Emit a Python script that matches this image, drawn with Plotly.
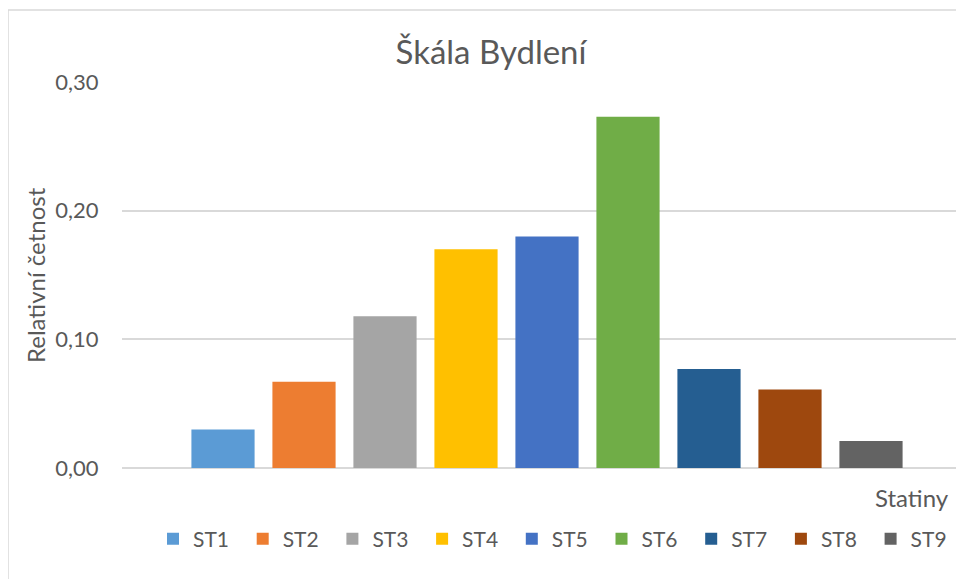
import plotly.graph_objects as go

categories = ["ST1", "ST2", "ST3", "ST4", "ST5", "ST6", "ST7", "ST8", "ST9"]
values = [0.030, 0.067, 0.118, 0.170, 0.180, 0.273, 0.077, 0.061, 0.021]
colors = ["#5B9BD5", "#ED7D31", "#A5A5A5", "#FFC000", "#4472C4",
          "#70AD47", "#255E91", "#9E480E", "#636363"]
y_ticks = [0.0, 0.1, 0.2, 0.3]

title_text = "Škála Bydlení"
y_title = "Relativní četnost"
x_title = "Statiny"

FONT = "Lato"
TXT = "#595959"
GRID = "#D9D9D9"

OFF = 8  # page body margin
W, H = 964 - OFF, 579 - OFF
L, R, T = 122 - OFF, 0, 82 - OFF
B = H - (468 - OFF)
pw = W - L - R
ph = H - T - B

def px_x(p):
    return (p - OFF - L) / pw

def px_y(p):
    return (H - B - (p - OFF)) / ph

fig = go.Figure()
for name, val, col in zip(categories, values, colors):
    fig.add_trace(go.Bar(
        x=[name], y=[val], name=name, width=0.78,
        marker=dict(color=col, line=dict(width=0)),
    ))

fig.update_layout(
    width=W, height=H,
    margin=dict(l=L, r=R, t=T, b=B),
    paper_bgcolor="white", plot_bgcolor="white",
    separators=", ",
    barmode="overlay",
    showlegend=True,
    font=dict(family=FONT, color=TXT, size=22),
    title=dict(text=title_text, font=dict(family=FONT, size=33, color=TXT),
               xref="paper", x=px_x(491), xanchor="center",
               yref="container", y=1 - (52 - OFF) / H, yanchor="middle"),
    legend=dict(orientation="h", x=px_x(557), xanchor="center",
                y=px_y(539), yanchor="middle",
                font=dict(family=FONT, size=21, color=TXT),
                traceorder="normal", entrywidth=44.7, itemclick=False),
    xaxis=dict(type="category", categoryorder="array", categoryarray=categories,
               range=[(122 - 223) / 81, (964 - 223) / 81],
               showticklabels=False, showgrid=False, zeroline=False,
               showline=False, ticks=""),
    yaxis=dict(range=[0, 0.30], tickvals=y_ticks, tickformat=".2f",
               showgrid=True, gridcolor=GRID, gridwidth=1.5,
               zeroline=True, zerolinecolor=GRID, zerolinewidth=1.5,
               showline=False, ticks="outside", ticklen=18,
               tickcolor="rgba(0,0,0,0)",
               tickfont=dict(family=FONT, size=22, color=TXT)),
    shapes=[dict(type="rect", xref="paper", yref="paper",
                 x0=px_x(8), x1=px_x(990), y0=px_y(600), y1=px_y(10),
                 line=dict(color=GRID, width=1.5), layer="below")],
    annotations=[
        dict(text=y_title, xref="paper", yref="paper", x=px_x(35), y=px_y(275),
             xanchor="center", yanchor="middle", textangle=-90, showarrow=False,
             font=dict(family=FONT, size=24, color=TXT)),
        dict(text=x_title, xref="paper", yref="paper", x=px_x(951), y=px_y(497),
             xanchor="right", yanchor="middle", showarrow=False,
             font=dict(family=FONT, size=24, color=TXT)),
    ],
)

fig.write_html("out.html")
